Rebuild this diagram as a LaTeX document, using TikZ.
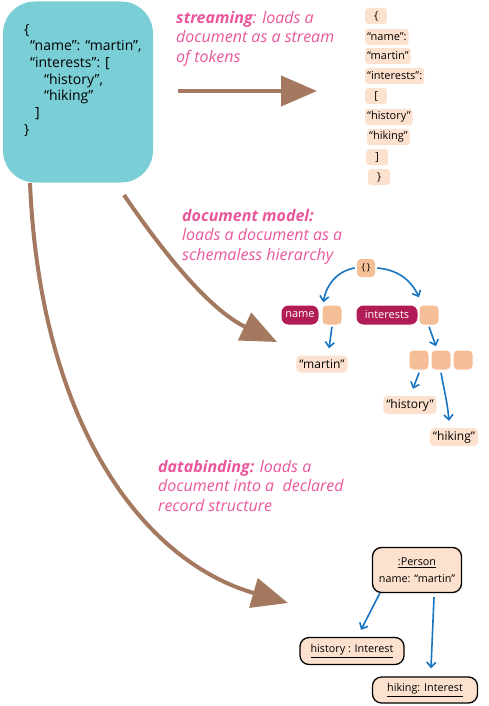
\documentclass[tikz,border=0pt]{standalone}
\usepackage{fontspec}
\setmainfont{Open Sans}
\usetikzlibrary{arrows.meta,positioning}
\definecolor{jsonteal}{RGB}{122,207,214}
\definecolor{bigbrown}{RGB}{164,121,96}
\definecolor{pinktext}{RGB}{234,86,156}
\definecolor{peach}{RGB}{244,190,150}
\definecolor{lightpeach}{RGB}{252,226,206}
\definecolor{crimson}{RGB}{178,28,86}
\definecolor{arrowblue}{RGB}{24,116,192}
\tikzset{
  blob/.style={fill=jsonteal, rounded corners=32pt, minimum width=150pt, minimum height=181pt},
  token/.style={fill=lightpeach, rounded corners=3pt, inner sep=2pt, minimum height=16pt, minimum width=22pt, anchor=west, font=\fontsize{11}{12}\selectfont},
  slot/.style={fill=peach, rounded corners=4pt, minimum size=19pt, inner sep=0pt},
  key/.style={fill=crimson, text=white, rounded corners=7pt, minimum height=19pt, inner sep=2pt, font=\fontsize{11}{12}\selectfont},
  leaf/.style={fill=lightpeach, rounded corners=4pt, minimum height=17pt, inner sep=3pt, font=\fontsize{12}{13}\selectfont},
  object/.style={draw, line width=1.3pt, fill=lightpeach, rounded corners=9pt, inner sep=3pt, font=\fontsize{10.8}{12}\selectfont, align=center},
  bigarrow/.style={draw=bigbrown, line width=4pt, -{Triangle[length=36pt,width=30pt]}},
  thin/.style={draw=arrowblue, line width=1.6pt, -{Straight Barb[length=5pt,width=9pt]}},
  caption/.style={text=pinktext, anchor=north west, align=left, inner sep=0pt, font=\fontsize{16}{19.5}\selectfont\itshape}
}
\begin{document}
\begin{tikzpicture}[x=1pt,y=-1pt]
  \useasboundingbox (0,0) rectangle (489,706);
  % the JSON text
  \node[blob] (json) at (78,92) {};
  \node[anchor=north west, align=left, inner sep=0pt, font=\fontsize{14}{16.7}\selectfont] (jsontext) at (24,24)
    {\{\\\hspace*{6pt}“name”: “martin”,\\\hspace*{6pt}“interests”: [\\\hspace*{20pt}“history”,\\\hspace*{20pt}“hiking”\\\hspace*{11pt}]\\\}};

  % streaming
  \node[caption] (streamcap) at (176,11) {\textbf{streaming}: loads a\\document as a stream\\of tokens};
  \coordinate (streamstart) at (178,91);
  \coordinate (streamend) at (317,91);
  \draw[bigarrow] (streamstart) -- (streamend);
  \node[token] (t1) at (365,16) {\{};
  \node[token] (t2) at (365,37) {“name”:};
  \node[token] (t3) at (365,56) {“martin”};
  \node[token] (t4) at (365,76) {“interests”:};
  \node[token] (t5) at (365,96) {[};
  \node[token] (t6) at (365,117) {“history”};
  \node[token] (t7) at (367,137) {“hiking”};
  \node[token] (t8) at (366,157) {]};
  \node[token] (t9) at (368,177) {\}};

  % document model
  \node[caption] (modelcap) at (182,209) {\textbf{document model:}\\loads a document as a\\schemaless hierarchy};
  \coordinate (modelstart) at (124,195);
  \coordinate (modelend) at (277,342);
  \draw[bigarrow] (modelstart) .. controls (165,255) and (210,310) .. (modelend);
  \node[slot, minimum size=18pt, font=\fontsize{9.5}{10}\selectfont] (root) at (366,268) {\{\,\}};
  \node[key, minimum width=37pt] (namekey) at (300,315) {name};
  \node[slot] (nameval) at (332,315) {};
  \node[key, minimum width=61pt] (intkey) at (387,315) {interests};
  \node[slot] (intval) at (429,315) {};
  \node[leaf] (martin) at (322,364) {“martin”};
  \node[slot] (item1) at (419,360) {};
  \node[slot] (item2) at (441,360) {};
  \node[slot] (item3) at (463,360) {};
  \node[leaf] (history) at (410,405) {“history”};
  \node[leaf] (hiking) at (454,437) {“hiking”};
  \draw[thin] ([xshift=-2pt]root.west) to[out=190,in=80] ([xshift=1pt,yshift=3pt]nameval.north west);
  \draw[thin] ([xshift=2pt]root.east) to[out=-5,in=115] ([xshift=-10pt,yshift=8pt]intval.north);
  \draw[thin] ([yshift=-2pt]nameval.south) -- ([xshift=7pt,yshift=7pt]martin.north);
  \draw[thin] ([yshift=-2pt]intval.south) -- ([xshift=-5pt,yshift=4pt]item2.north);
  \draw[thin] ([yshift=-3pt]item1.south) -- ([xshift=3pt,yshift=7pt]history.north);
  \draw[thin] ([yshift=-3pt]item2.south) to[out=-80,in=95] ([xshift=-5pt,yshift=7pt]hiking.north);

  % databinding
  \node[caption] (bindcap) at (158,460) {\textbf{databinding:} loads a\\document into a~ declared\\record structure};
  \coordinate (bindstart) at (30,183);
  \coordinate (bindend) at (288,603);
  \draw[bigarrow] (bindstart) .. controls (40,420) and (140,560) .. (bindend);
  \node[object, minimum width=89pt, minimum height=45pt] (person) at (417,570) {\underline{:Person}\\[5pt]name: “martin”};
  \node[object, minimum width=104pt, minimum height=27pt] (histobj) at (352,651) {\underline{history : Interest}};
  \node[object, minimum width=105pt, minimum height=26pt] (hikeobj) at (425,690) {\underline{hiking: Interest}};
  \draw[thin] ([xshift=8pt]person.south west) -- ([xshift=9pt,yshift=7pt]histobj.north);
  \draw[thin] ([xshift=17pt,yshift=-4pt]person.south) -- ([xshift=6pt,yshift=8pt]hikeobj.north);
\end{tikzpicture}
\end{document}
